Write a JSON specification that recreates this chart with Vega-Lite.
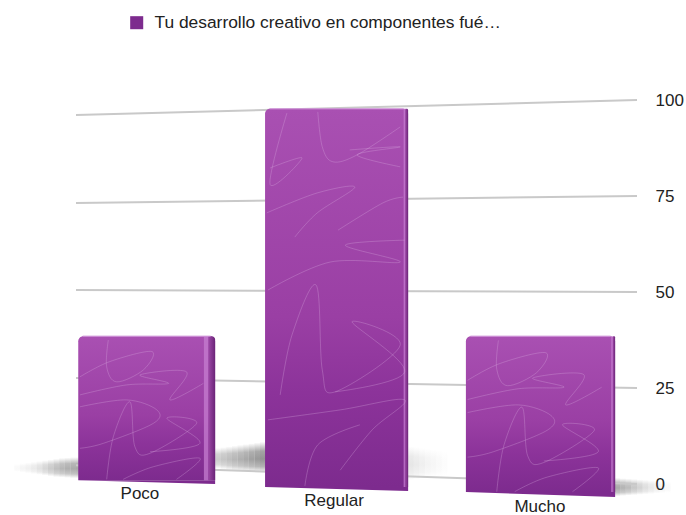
{
  "$schema": "https://vega.github.io/schema/vega-lite/v6.json",
  "width": 561,
  "height": 384,
  "autosize": "none",
  "padding": {"left": 76, "top": 100, "right": 49, "bottom": 31},
  "background": "white",
  "config": {"view": {"stroke": null}, "font": "Liberation Sans"},
  "datasets": {
    "bars": [
      {"category": "Poco", "value": 38.5, "base": 1.0, "left": 0.4, "right": 24.8, "topStart": 1.2, "topEnd": 24.0, "faceEnd": 22.8, "edgeMid": 23.6, "labelX": 11.4, "labelY": -2.6},
      {"category": "Regular", "value": 97.7, "base": -0.8, "left": 33.7, "right": 59.2, "topStart": 34.5, "topEnd": 58.4, "faceEnd": 58.4, "edgeMid": 58.7, "labelX": 46.0, "labelY": -4.4},
      {"category": "Mucho", "value": 38.5, "base": -2.1, "left": 69.5, "right": 96.1, "topStart": 70.3, "topEnd": 95.3, "faceEnd": 95.4, "edgeMid": 95.7, "labelX": 82.7, "labelY": -5.9}
    ],
    "foot": [
      {"category": "Poco", "series": "Tu desarrollo creativo en componentes fué…", "x": 0.4, "y": 1.0, "y2": 1.0},
      {"category": "Poco", "series": "Tu desarrollo creativo en componentes fué…", "x": 24.8, "y": 1.0, "y2": 0.0},
      {"category": "Regular", "series": "Tu desarrollo creativo en componentes fué…", "x": 33.7, "y": -0.8, "y2": -0.8},
      {"category": "Regular", "series": "Tu desarrollo creativo en componentes fué…", "x": 59.2, "y": -0.8, "y2": -1.8},
      {"category": "Mucho", "series": "Tu desarrollo creativo en componentes fué…", "x": 69.5, "y": -2.1, "y2": -2.1},
      {"category": "Mucho", "series": "Tu desarrollo creativo en componentes fué…", "x": 96.1, "y": -2.1, "y2": -3.4}
    ],
    "grid": [
      {"level": 100, "x": 0, "y": 96.1}, {"level": 100, "x": 100, "y": 100},
      {"level": 75, "x": 0, "y": 73.2}, {"level": 75, "x": 100, "y": 75},
      {"level": 50, "x": 0, "y": 50.5}, {"level": 50, "x": 100, "y": 50},
      {"level": 25, "x": 0, "y": 27.6}, {"level": 25, "x": 100, "y": 25},
      {"level": 0, "x": 0, "y": 4.9}, {"level": 0, "x": 100, "y": 0}
    ],
    "floorShadows": [
      {"x": -11, "x2": -10, "y": 5.2, "y2": 3.2, "strength": 0.04},
      {"x": -10, "x2": -9, "y": 5.4, "y2": 3.0, "strength": 0.07},
      {"x": -9, "x2": -8, "y": 5.6, "y2": 2.8, "strength": 0.1},
      {"x": -8, "x2": -7, "y": 5.8, "y2": 2.6, "strength": 0.14},
      {"x": -7, "x2": -6, "y": 6.0, "y2": 2.4, "strength": 0.2},
      {"x": -6, "x2": -5, "y": 6.2, "y2": 2.2, "strength": 0.28},
      {"x": -5, "x2": -4, "y": 6.4, "y2": 2.0, "strength": 0.36},
      {"x": -4, "x2": -3, "y": 6.6, "y2": 1.8, "strength": 0.44},
      {"x": -3, "x2": -2, "y": 6.8, "y2": 1.7, "strength": 0.5},
      {"x": -2, "x2": -1, "y": 6.9, "y2": 1.6, "strength": 0.55},
      {"x": -1, "x2": 0, "y": 7.0, "y2": 1.5, "strength": 0.58},
      {"x": 0, "x2": 1, "y": 7.0, "y2": 1.5, "strength": 0.6},
      {"x": 24.8, "x2": 25.8, "y": 9.4, "y2": 4.0, "strength": 0.36},
      {"x": 25.8, "x2": 26.8, "y": 9.6, "y2": 3.8, "strength": 0.4},
      {"x": 26.8, "x2": 27.8, "y": 9.8, "y2": 3.6, "strength": 0.45},
      {"x": 27.8, "x2": 28.8, "y": 10.0, "y2": 3.4, "strength": 0.5},
      {"x": 28.8, "x2": 29.8, "y": 10.2, "y2": 3.3, "strength": 0.55},
      {"x": 29.8, "x2": 30.8, "y": 10.4, "y2": 3.2, "strength": 0.6},
      {"x": 30.8, "x2": 31.8, "y": 10.6, "y2": 3.1, "strength": 0.65},
      {"x": 31.8, "x2": 32.8, "y": 10.8, "y2": 3.0, "strength": 0.7},
      {"x": 32.8, "x2": 34, "y": 11.0, "y2": 2.9, "strength": 0.74},
      {"x": 59.2, "x2": 60.2, "y": 9.8, "y2": 1.0, "strength": 0.17},
      {"x": 60.2, "x2": 61.2, "y": 9.6, "y2": 1.2, "strength": 0.14},
      {"x": 61.2, "x2": 62.2, "y": 9.4, "y2": 1.4, "strength": 0.11},
      {"x": 62.2, "x2": 63.2, "y": 9.2, "y2": 1.6, "strength": 0.08},
      {"x": 63.2, "x2": 64.2, "y": 9.0, "y2": 1.8, "strength": 0.06},
      {"x": 64.2, "x2": 65.2, "y": 8.8, "y2": 2.0, "strength": 0.04},
      {"x": 65.2, "x2": 66.2, "y": 8.6, "y2": 2.2, "strength": 0.02},
      {"x": 96, "x2": 97, "y": 1.6, "y2": -3.2, "strength": 0.58},
      {"x": 97, "x2": 98, "y": 1.5, "y2": -3.1, "strength": 0.52},
      {"x": 98, "x2": 99, "y": 1.4, "y2": -3.0, "strength": 0.46},
      {"x": 99, "x2": 100, "y": 1.3, "y2": -2.9, "strength": 0.38},
      {"x": 100, "x2": 101, "y": 1.2, "y2": -2.8, "strength": 0.3},
      {"x": 101, "x2": 102, "y": 1.1, "y2": -2.7, "strength": 0.22},
      {"x": 102, "x2": 103, "y": 1.0, "y2": -2.6, "strength": 0.16},
      {"x": 103, "x2": 104, "y": 0.9, "y2": -2.5, "strength": 0.11},
      {"x": 104, "x2": 105, "y": 0.8, "y2": -2.4, "strength": 0.07},
      {"x": 105, "x2": 106, "y": 0.7, "y2": -2.3, "strength": 0.04}
    ],
    "scribbles": [
      {"s": "p1", "x": 5.76, "y": 37.5}, {"s": "p1", "x": 5.47, "y": 30.5}, {"s": "p1", "x": 7.25, "y": 26.6}, {"s": "p1", "x": 12, "y": 29.7}, {"s": "p1", "x": 13.5, "y": 34.5}, {"s": "p1", "x": 6.06, "y": 31.9}, {"s": "p1", "x": 0.7, "y": 27.9},
      {"s": "p2", "x": 0.7, "y": 23.2}, {"s": "p2", "x": 9, "y": 25.8}, {"s": "p2", "x": 16.5, "y": 26.2}, {"s": "p2", "x": 11.4, "y": 28.4}, {"s": "p2", "x": 19.7, "y": 29.2}, {"s": "p2", "x": 16.75, "y": 21.9}, {"s": "p2", "x": 22.7, "y": 26.2},
      {"s": "p3", "x": 0.7, "y": 20.1}, {"s": "p3", "x": 9, "y": 21.9}, {"s": "p3", "x": 14.4, "y": 19.3}, {"s": "p3", "x": 13.8, "y": 15.8}, {"s": "p3", "x": 4.9, "y": 10.6}, {"s": "p3", "x": 0.7, "y": 9.3},
      {"s": "p4", "x": 5.47, "y": 1.2}, {"s": "p4", "x": 6.65, "y": 12.3}, {"s": "p4", "x": 9.6, "y": 21.4}, {"s": "p4", "x": 10.5, "y": 9.7}, {"s": "p4", "x": 13.2, "y": 8}, {"s": "p4", "x": 21.5, "y": 15.8}, {"s": "p4", "x": 16.2, "y": 17.1}, {"s": "p4", "x": 22.1, "y": 10.6}, {"s": "p4", "x": 13.2, "y": 8.4},
      {"s": "p5", "x": 8.4, "y": 1.2}, {"s": "p5", "x": 13.8, "y": 4.5}, {"s": "p5", "x": 22.1, "y": 6.7}, {"s": "p5", "x": 17.9, "y": 1.2},
      {"s": "m1", "x": 75.3, "y": 37.4}, {"s": "m1", "x": 75, "y": 29.9}, {"s": "m1", "x": 76.9, "y": 25.6}, {"s": "m1", "x": 82.1, "y": 29}, {"s": "m1", "x": 83.7, "y": 34.2}, {"s": "m1", "x": 75.6, "y": 31.4}, {"s": "m1", "x": 69.8, "y": 27},
      {"s": "m2", "x": 69.8, "y": 22}, {"s": "m2", "x": 78.8, "y": 24.8}, {"s": "m2", "x": 87, "y": 25.2}, {"s": "m2", "x": 81.4, "y": 27.6}, {"s": "m2", "x": 90.5, "y": 28.5}, {"s": "m2", "x": 87.3, "y": 20.6}, {"s": "m2", "x": 93.7, "y": 25.2},
      {"s": "m3", "x": 69.8, "y": 18.6}, {"s": "m3", "x": 78.8, "y": 20.6}, {"s": "m3", "x": 84.7, "y": 17.8}, {"s": "m3", "x": 84, "y": 14}, {"s": "m3", "x": 74.4, "y": 8.4}, {"s": "m3", "x": 69.8, "y": 7},
      {"s": "m4", "x": 75, "y": -2}, {"s": "m4", "x": 76.3, "y": 10.2}, {"s": "m4", "x": 79.5, "y": 20}, {"s": "m4", "x": 80.5, "y": 7.4}, {"s": "m4", "x": 83.4, "y": 5.6}, {"s": "m4", "x": 92.4, "y": 14}, {"s": "m4", "x": 86.7, "y": 15.4}, {"s": "m4", "x": 93.1, "y": 8.4}, {"s": "m4", "x": 83.4, "y": 6},
      {"s": "m5", "x": 78.2, "y": -2}, {"s": "m5", "x": 84, "y": 1.8}, {"s": "m5", "x": 93.1, "y": 4.2}, {"s": "m5", "x": 88.5, "y": -2},
      {"s": "r1", "x": 43.1, "y": 96.9}, {"s": "r1", "x": 43.9, "y": 87.8}, {"s": "r1", "x": 45.8, "y": 83.9}, {"s": "r1", "x": 50.1, "y": 85.7}, {"s": "r1", "x": 57.8, "y": 93},
      {"s": "r2", "x": 37.6, "y": 96.6}, {"s": "r2", "x": 34.6, "y": 78}, {"s": "r2", "x": 40.3, "y": 84.9}, {"s": "r2", "x": 34.6, "y": 82.3},
      {"s": "r3", "x": 34, "y": 70.6}, {"s": "r3", "x": 43, "y": 75.8}, {"s": "r3", "x": 49.7, "y": 77.3}, {"s": "r3", "x": 43, "y": 70.6}, {"s": "r3", "x": 39, "y": 64.3},
      {"s": "r4", "x": 48.8, "y": 87}, {"s": "r4", "x": 57.8, "y": 87.8}, {"s": "r4", "x": 50.1, "y": 85.7}, {"s": "r4", "x": 57.8, "y": 82.6},
      {"s": "r5", "x": 46.7, "y": 66.1}, {"s": "r5", "x": 54.7, "y": 73.2}, {"s": "r5", "x": 58.3, "y": 74.7},
      {"s": "r6", "x": 34.2, "y": 50.5}, {"s": "r6", "x": 45.3, "y": 57.8}, {"s": "r6", "x": 57.8, "y": 57.8}, {"s": "r6", "x": 48, "y": 62.2}, {"s": "r6", "x": 58.6, "y": 63.5},
      {"s": "r7", "x": 36.4, "y": 23.2}, {"s": "r7", "x": 38.5, "y": 38.8}, {"s": "r7", "x": 42.8, "y": 51.8}, {"s": "r7", "x": 43.9, "y": 29.7}, {"s": "r7", "x": 46.2, "y": 24}, {"s": "r7", "x": 57.8, "y": 36.2}, {"s": "r7", "x": 49.2, "y": 42.2}, {"s": "r7", "x": 58.6, "y": 29.2}, {"s": "r7", "x": 46.2, "y": 24},
      {"s": "r8", "x": 34.2, "y": 16.7}, {"s": "r8", "x": 47.1, "y": 19.3}, {"s": "r8", "x": 58.6, "y": 21.9}, {"s": "r8", "x": 52.8, "y": 14.1}, {"s": "r8", "x": 47.1, "y": 3.6},
      {"s": "r9", "x": 40.8, "y": -0.5}, {"s": "r9", "x": 43.1, "y": 10.2}, {"s": "r9", "x": 50.6, "y": 15.4}
    ]
  },
  "resolve": {"scale": {"color": "independent"}},
  "layer": [
    {
      "data": {"name": "floorShadows"},
      "mark": {
        "type": "rect",
        "color": {"gradient": "linear", "x1": 0, "y1": 0, "x2": 0, "y2": 1,
          "stops": [{"offset": 0, "color": "rgba(110,110,110,0)"}, {"offset": 0.3, "color": "rgba(110,110,110,0.85)"}, {"offset": 0.55, "color": "rgba(110,110,110,1)"}, {"offset": 0.8, "color": "rgba(110,110,110,0.7)"}, {"offset": 1, "color": "rgba(110,110,110,0)"}]}
      },
      "encoding": {
        "x": {"field": "x", "type": "quantitative", "scale": {"domain": [0, 100], "nice": false}, "axis": null},
        "x2": {"field": "x2"},
        "y": {
          "field": "y", "type": "quantitative", "scale": {"domain": [0, 100], "nice": false},
          "axis": {
            "orient": "right", "values": [0, 25, 50, 75, 100], "title": null, "grid": false,
            "domain": false, "ticks": false, "labelPadding": 18, "labelFontSize": 17,
            "labelColor": "#222222", "labelFont": "Liberation Sans"
          }
        },
        "y2": {"field": "y2"},
        "opacity": {"field": "strength", "type": "quantitative", "scale": null, "legend": null}
      }
    },
    {
      "data": {"name": "grid"},
      "mark": {"type": "line", "color": "#c9c9c9", "strokeWidth": 2},
      "encoding": {
        "x": {"field": "x", "type": "quantitative"},
        "y": {"field": "y", "type": "quantitative"},
        "detail": {"field": "level"}
      }
    },
    {
      "data": {"name": "bars"},
      "mark": {
        "type": "rect", "cornerRadiusTopLeft": 5, "cornerRadiusTopRight": 5,
        "color": {"gradient": "linear", "x1": 0, "y1": 0, "x2": 0, "y2": 1,
          "stops": [{"offset": 0, "color": "#a950b2"}, {"offset": 0.55, "color": "#9a3fa4"}, {"offset": 0.75, "color": "#8c339a"}, {"offset": 1, "color": "#7d2b8e"}]}
      },
      "encoding": {
        "x": {"field": "left", "type": "quantitative"},
        "x2": {"field": "right"},
        "y": {"field": "value", "type": "quantitative"},
        "y2": {"field": "base"}
      }
    },
    {
      "data": {"name": "foot"},
      "mark": {"type": "area", "interpolate": "linear"},
      "encoding": {
        "x": {"field": "x", "type": "quantitative"},
        "y": {"field": "y", "type": "quantitative", "stack": null},
        "y2": {"field": "y2"},
        "detail": {"field": "category"},
        "color": {
          "field": "series", "type": "nominal",
          "scale": {"range": ["#7d2b8e"]},
          "legend": {
            "orient": "none", "legendX": 52, "legendY": -86, "title": null,
            "symbolType": "square", "symbolSize": 170, "labelFontSize": 17.4,
            "labelColor": "#222222", "labelFont": "Liberation Sans", "labelOffset": 9, "labelLimit": 420
          }
        }
      }
    },
    {
      "data": {"name": "bars"},
      "mark": {"type": "rect", "color": "#c67ed0", "opacity": 0.75},
      "encoding": {
        "x": {"field": "faceEnd", "type": "quantitative"},
        "x2": {"field": "edgeMid"},
        "y": {"field": "value", "type": "quantitative"},
        "y2": {"field": "base"}
      }
    },
    {
      "data": {"name": "bars"},
      "mark": {
        "type": "rect", "cornerRadiusTopRight": 4,
        "color": {"gradient": "linear", "x1": 0, "y1": 0, "x2": 1, "y2": 0,
          "stops": [{"offset": 0, "color": "#9c48a6"}, {"offset": 1, "color": "#6b2478"}]}
      },
      "encoding": {
        "x": {"field": "edgeMid", "type": "quantitative"},
        "x2": {"field": "right"},
        "y": {"field": "value", "type": "quantitative"},
        "y2": {"field": "base"}
      }
    },
    {
      "data": {"name": "bars"},
      "mark": {"type": "rule", "color": "#cf92d8", "strokeWidth": 1.5, "opacity": 0.7},
      "encoding": {
        "x": {"field": "topStart", "type": "quantitative"},
        "x2": {"field": "topEnd"},
        "y": {"field": "value", "type": "quantitative"}
      }
    },
    {
      "data": {"name": "scribbles"},
      "mark": {"type": "line", "interpolate": "cardinal", "color": "#dcb0e2", "strokeWidth": 1, "opacity": 0.3},
      "encoding": {
        "x": {"field": "x", "type": "quantitative"},
        "y": {"field": "y", "type": "quantitative"},
        "detail": {"field": "s"},
        "order": {"value": null}
      }
    },
    {
      "data": {"name": "bars"},
      "mark": {"type": "text", "fontSize": 17, "color": "#222222", "font": "Liberation Sans"},
      "encoding": {
        "x": {"field": "labelX", "type": "quantitative"},
        "y": {"field": "labelY", "type": "quantitative"},
        "text": {"field": "category"}
      }
    }
  ]
}
